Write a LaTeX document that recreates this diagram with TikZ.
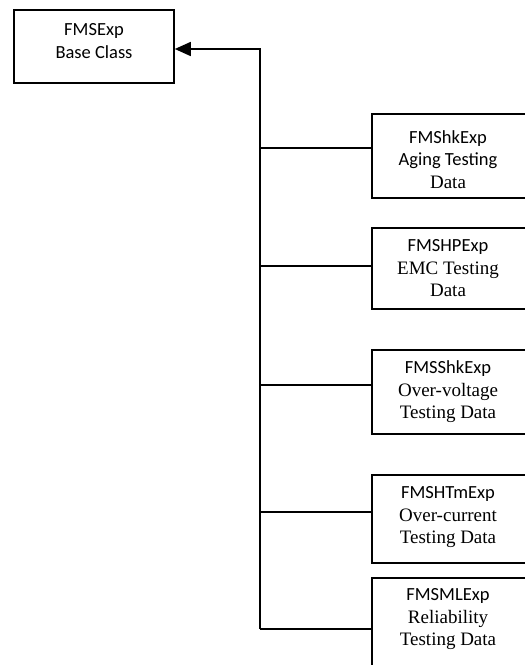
\documentclass[tikz,border=0pt]{standalone}
\usepackage{fontspec}
\setmainfont{Liberation Serif}
\newfontfamily\calib{Carlito}
\usetikzlibrary{arrows.meta}
\tikzset{
  box/.style={draw, line width=1.6pt, rectangle, inner sep=0pt, minimum width=164pt},
  txt/.style={align=center, inner sep=0pt, font=\fontsize{19}{22.5}\selectfont},
  conn/.style={line width=1.6pt},
}
\newcommand{\sn}[1]{{\calib\fontsize{18.5}{22.5}\selectfont #1}}
\begin{document}
\begin{tikzpicture}[x=1pt,y=-1pt]
\useasboundingbox (0,0) rectangle (525,665);
\begin{scope}
\clip (0,0) rectangle (525,665);
% base
\node[draw, line width=1.6pt, inner sep=0pt, minimum width=160pt, minimum height=73pt] (base) at (94,46.5) {};
\node[txt] (baset) at (94,41) {\sn{FMSExp}\\\sn{Base Class}};
% right boxes
\node[box, minimum height=84pt] (b1) at (454,156) {};
\node[txt] (t1) at (448,159.5) {\sn{FMShkExp}\\\sn{Aging Testing}\\Data};
\node[box, minimum height=81pt] (b2) at (454,268.5) {};
\node[txt] (t2) at (448,268.5) {\sn{FMSHPExp}\\EMC Testing\\Data};
\node[box, minimum height=84pt] (b3) at (454,392) {};
\node[txt] (t3) at (448,392) {\sn{FMSShkExp}\\ Over-voltage\\Testing Data};
\node[box, minimum height=88pt] (b4) at (454,519) {};
\node[txt] (t4) at (448,517.5) {\sn{FMSHTmExp}\\Over-current\\Testing Data};
\node[box, minimum height=92pt] (b5) at (454,624) {};
\node[txt] (t5) at (448,619.5) {\sn{FMSMLExp}\\Reliability\\Testing Data};
% trunk
\coordinate (top) at (260,49);
\coordinate (j1) at (260,148);
\coordinate (j2) at (260,266);
\coordinate (j3) at (260,385);
\coordinate (j4) at (260,512);
\coordinate (j5) at (260,629);
\draw[conn, -{Triangle[length=16pt,width=14pt]}] (j5) -- (top) -- (top -| base.east);
\draw[conn] (j1) -- (j1 -| b1.west);
\draw[conn] (j2) -- (j2 -| b2.west);
\draw[conn] (j3) -- (j3 -| b3.west);
\draw[conn] (j4) -- (j4 -| b4.west);
\draw[conn] (j5) -- (j5 -| b5.west);
\end{scope}
\end{tikzpicture}
\end{document}
